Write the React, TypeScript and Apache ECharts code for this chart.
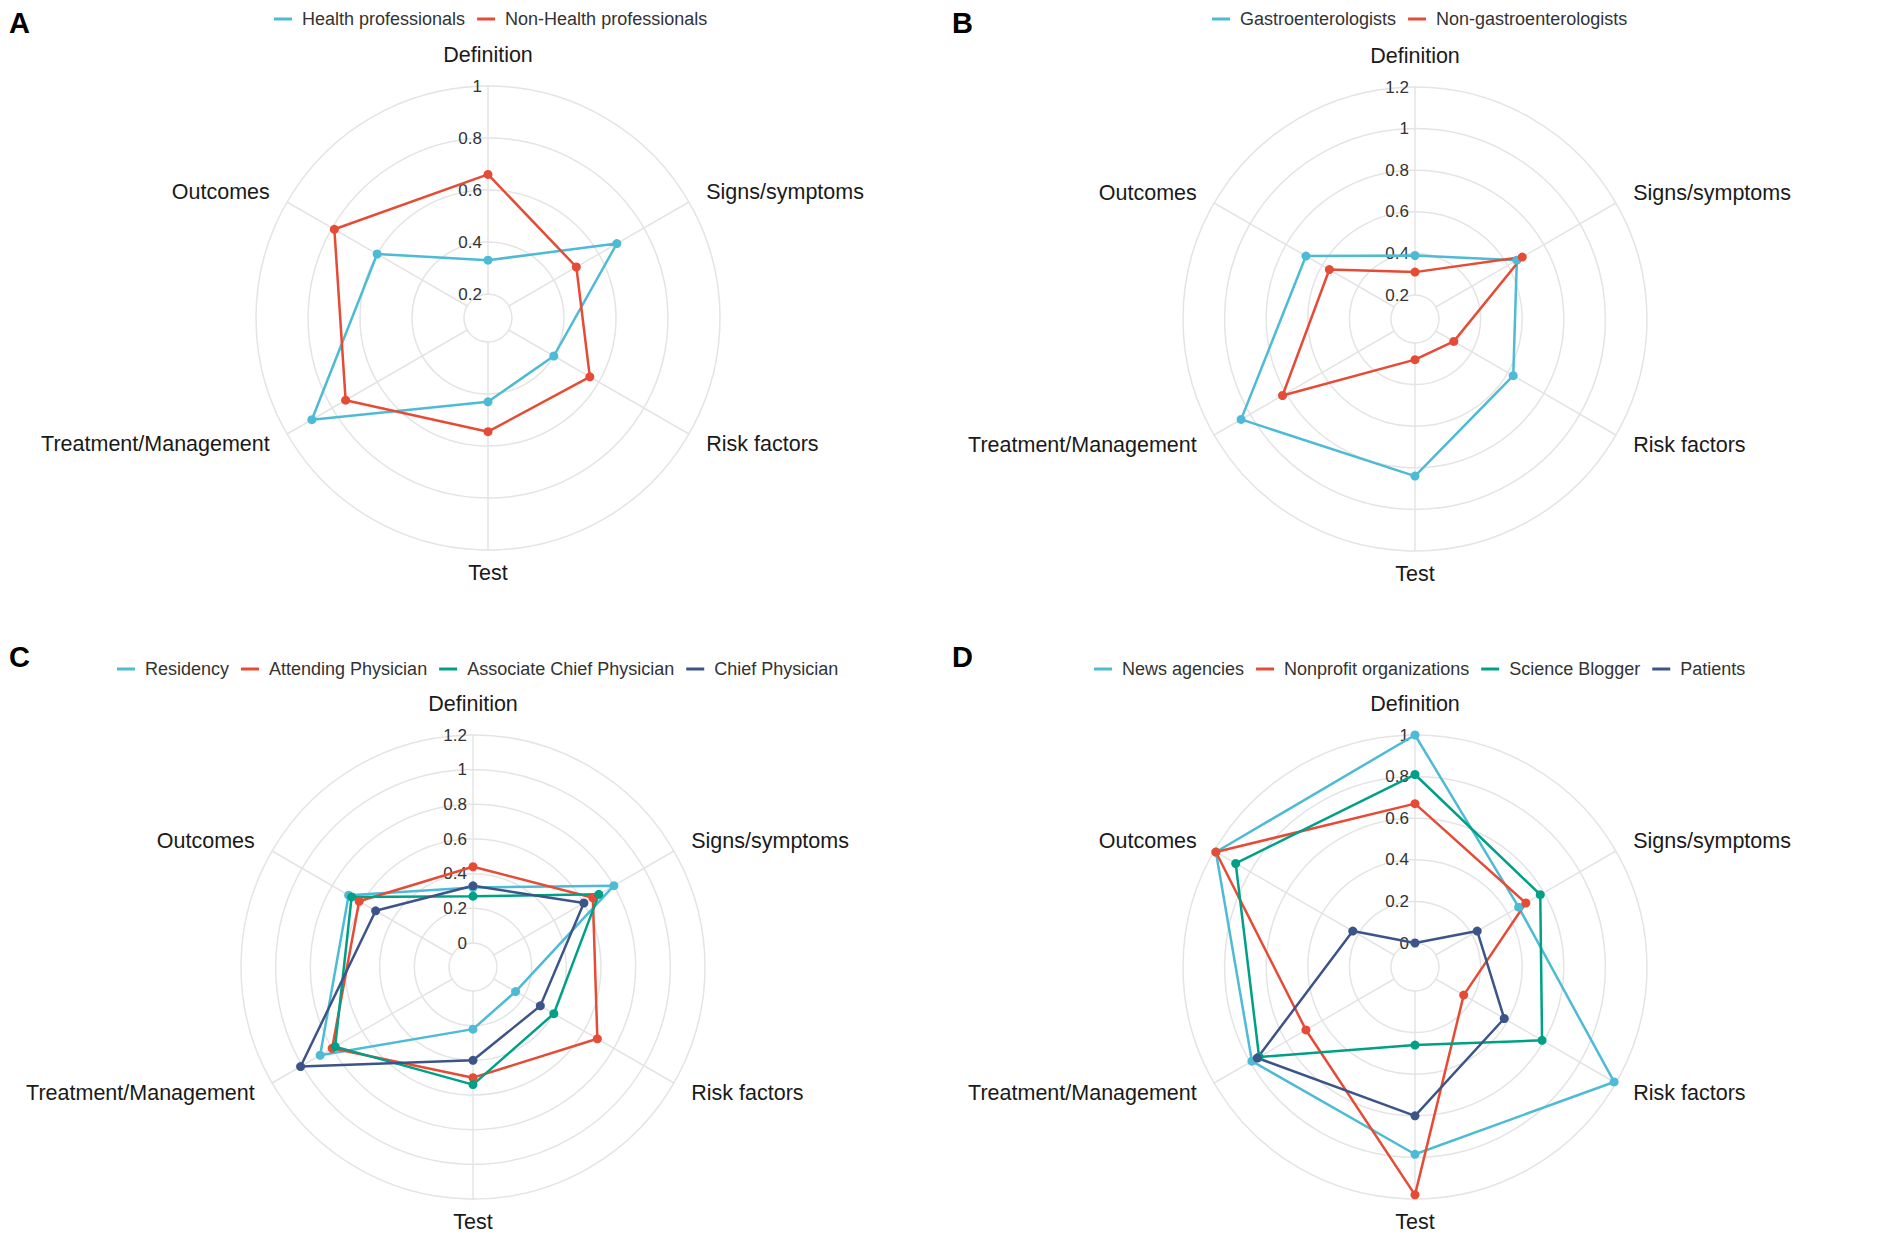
import React, { useEffect, useRef } from "react";
import * as echarts from "echarts";

// Axis order as read clockwise from the top in the reference
const axisNames = ["Definition", "Signs/symptoms", "Risk factors", "Test", "Treatment/Management", "Outcomes"];

// Panel A (scale 0.2 – 1)
const panelAGroups = ["Health professionals", "Non-Health professionals"];
const healthProfessionals = [0.33, 0.68, 0.40, 0.43, 0.89, 0.60];
const nonHealthProfessionals = [0.66, 0.50, 0.56, 0.545, 0.74, 0.79];

// Panel B (scale 0.2 – 1.2)
const panelBGroups = ["Gastroenterologists", "Non-gastroenterologists"];
const gastroenterologists = [0.39, 0.65, 0.63, 0.84, 1.05, 0.69];
const nonGastroenterologists = [0.31, 0.68, 0.30, 0.28, 0.82, 0.56];

// Panel C (scale 0 – 1.2)
const panelCGroups = ["Residency", "Attending Physician", "Associate Chief Physician", "Chief Physician"];
const residency = [0.32, 0.80, 0.145, 0.22, 0.88, 0.69];
const attendingPhysician = [0.44, 0.66, 0.69, 0.50, 0.80, 0.62];
const associateChiefPhysician = [0.27, 0.70, 0.40, 0.54, 0.78, 0.67];
const chiefPhysician = [0.33, 0.60, 0.31, 0.40, 1.01, 0.51];

// Panel D (scale 0 – 1)
const panelDGroups = ["News agencies", "Nonprofit organizations", "Science Blogger", "Patients"];
const newsAgencies = [1.0, 0.46, 0.99, 0.785, 0.79, 0.99];
const nonprofitOrganizations = [0.67, 0.50, 0.155, 0.98, 0.49, 0.99];
const scienceBlogger = [0.81, 0.58, 0.59, 0.26, 0.75, 0.88];
const patients = [0.0, 0.23, 0.38, 0.60, 0.76, 0.23];

// Scale ranges: [min, max, splitNumber]
const scaleA = [0.2, 1, 4];
const scaleB = [0.2, 1.2, 5];
const scaleC = [0, 1.2, 6];
const scaleD = [0, 1, 5];

const palette = ["#4DBBD5", "#E64B35", "#00A087", "#3C5488"];
const FONT = "'Liberation Sans', Arial, Helvetica, sans-serif";

// ECharts places indicators counter-clockwise; reorder clockwise list
const ecOrder = [0, 5, 4, 3, 2, 1];

function makeRadar(center: number[], scale: number[]) {
  const [min, max, split] = scale;
  return {
    center,
    radius: [24, 232],
    shape: "circle",
    startAngle: 90,
    splitNumber: split,
    indicator: ecOrder.map((i, k) => {
      const ind: any = { name: axisNames[i], min, max };
      if (k === 0) {
        ind.axisLabel = {
          show: true,
          fontSize: 17,
          color: "#333",
          fontFamily: FONT,
          margin: 6,
          formatter: (v: number) => String(Math.round(v * 100) / 100),
        };
      }
      if (axisNames[i] === "Test") ind.nameGap = 12;
      return ind;
    }),
    axisName: { color: "#1a1a1a", fontSize: 21.5, fontFamily: FONT },
    nameGap: 20,
    axisLabel: { show: false },
    axisTick: { show: false },
    axisLine: { show: true, lineStyle: { color: "#e4e4e4", width: 1.5 } },
    splitLine: { show: true, lineStyle: { color: "#e4e4e4", width: 1.5 } },
    splitArea: { show: false },
  };
}

function makeSeries(radarIndex: number, groups: string[], values: number[][]) {
  return groups.map((g, i) => ({
    type: "radar",
    name: g,
    radarIndex,
    symbol: "circle",
    symbolSize: 9,
    lineStyle: { width: 2.5, color: palette[i] },
    itemStyle: { color: palette[i] },
    data: [{ name: g, value: ecOrder.map((k) => values[i][k]) }],
  }));
}

function makeLegend(groups: string[], left: number, top: number) {
  return {
    data: groups,
    left,
    top,
    icon: "rect",
    itemWidth: 18,
    itemHeight: 3,
    itemGap: 12,
    textStyle: { fontSize: 18, color: "#333", fontFamily: FONT, padding: [0, 0, 0, 5] },
    selectedMode: false,
  };
}

function panelLetter(text: string, x: number, y: number) {
  return {
    type: "text",
    left: x,
    top: y,
    style: { text, fontSize: 29, fontWeight: "bold", fill: "#000", fontFamily: FONT },
  };
}

export default function App() {
  const ref = useRef<HTMLDivElement>(null);
  useEffect(() => {
    if (!ref.current) return;
    const chart = echarts.init(ref.current, undefined, { renderer: "svg" });
    chart.setOption({
      animation: false,
      backgroundColor: "#ffffff",
      textStyle: { fontFamily: FONT },
      radar: [
        makeRadar([488, 318], scaleA),
        makeRadar([1415, 319], scaleB),
        makeRadar([473, 967], scaleC),
        makeRadar([1415, 967], scaleD),
      ],
      legend: [
        makeLegend(panelAGroups, 269, 5),
        makeLegend(panelBGroups, 1207, 5),
        makeLegend(panelCGroups, 112, 655),
        makeLegend(panelDGroups, 1089, 655),
      ],
      graphic: [
        panelLetter("A", 9, 8),
        panelLetter("B", 952, 8),
        panelLetter("C", 9, 642),
        panelLetter("D", 952, 642),
      ],
      series: [
        ...makeSeries(0, panelAGroups, [healthProfessionals, nonHealthProfessionals]),
        ...makeSeries(1, panelBGroups, [gastroenterologists, nonGastroenterologists]),
        ...makeSeries(2, panelCGroups, [residency, attendingPhysician, associateChiefPhysician, chiefPhysician]),
        ...makeSeries(3, panelDGroups, [newsAgencies, nonprofitOrganizations, scienceBlogger, patients]),
      ],
    });
    return () => chart.dispose();
  }, []);
  return (
    <div
      ref={ref}
      style={{ position: "absolute", left: 0, top: 0, width: 1902, height: 1238, background: "#fff" }}
    />
  );
}
